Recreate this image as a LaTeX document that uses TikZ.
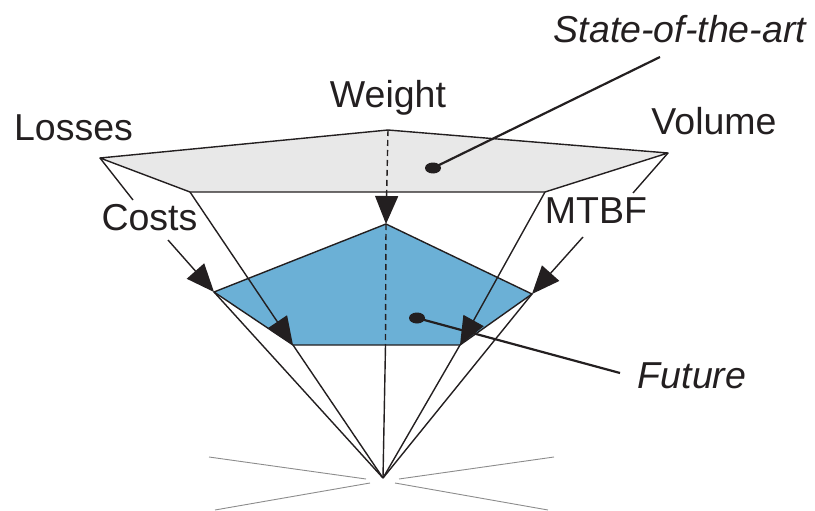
\documentclass[tikz,border=0pt]{standalone}
\usepackage{fontspec}
\setmainfont{Liberation Sans}
\usetikzlibrary{arrows.meta}
\definecolor{ink}{RGB}{35,31,32}
\definecolor{topgray}{RGB}{232,232,232}
\definecolor{futblue}{RGB}{107,176,214}
\definecolor{thingray}{RGB}{140,140,140}
\begin{document}
\begin{tikzpicture}[x=1pt,y=-1pt,
  edge/.style={ink, line width=1.4pt, line join=round},
  arr/.style={edge, -{Triangle[length=28pt,width=23pt]}},
  dsh/.style={dash pattern=on 6pt off 4pt},
  lbl/.style={font=\fontsize{37.5}{42}\selectfont, text=ink, inner sep=0pt, anchor=base},
  ilbl/.style={lbl, font=\fontsize{37.5}{42}\selectfont\itshape},
  ptr/.style={ink, line width=2.2pt},
  faint/.style={thingray, line width=0.9pt}]
\useasboundingbox (0,0) rectangle (815,511);
% vertices
\coordinate (TL) at (100,158);
\coordinate (TW) at (388,130);
\coordinate (TV) at (668,153);
\coordinate (TM) at (545,192);
\coordinate (TC) at (190,192);
\coordinate (BT) at (386,224);
\coordinate (BR) at (532,294);
\coordinate (BBR) at (460,345);
\coordinate (BBL) at (293,345);
\coordinate (BL) at (214,292);
\coordinate (BB) at (385.5,345);
\coordinate (A) at (383,478);
% label leader points
\coordinate (costsA) at (133,200);
\coordinate (costsB) at (168,240);
\coordinate (mtbfA) at (633,193);
\coordinate (mtbfB) at (583,237);
% faces
\filldraw[edge, fill=topgray] (TL)--(TW)--(TV)--(TM)--(TC)--cycle;
\filldraw[edge, fill=futblue] (BT)--(BR)--(BBR)--(BBL)--(BL)--cycle;
% connectors
\draw[edge] (TL)--(costsA);
\draw[arr] (costsB)--(BL);
\draw[arr] (TC)--(BBL);
\draw[arr] (TM)--(BBR);
\draw[edge] (TV)--(mtbfA);
\draw[arr] (mtbfB)--(BR);
\draw[arr, dsh] (TW)--(BT);
\draw[edge, dsh] (BT)--(BB);
\draw[edge] (BB)--(A);
\draw[edge] (BL)--(A);
\draw[edge] (BBL)--(A);
\draw[edge] (BBR)--(A);
\draw[edge] (BR)--(A);
% faint lines at the apex
\coordinate (g1a) at (209,457); \coordinate (g1b) at (366,479);
\coordinate (g2a) at (215,510); \coordinate (g2b) at (370,483);
\coordinate (g3a) at (399,479); \coordinate (g3b) at (554,457);
\coordinate (g4a) at (395,483); \coordinate (g4b) at (548,510);
\draw[faint] (g1a)--(g1b);
\draw[faint] (g2a)--(g2b);
\draw[faint] (g3a)--(g3b);
\draw[faint] (g4a)--(g4b);
% dots and pointers
\coordinate (sdot) at (433,168);
\coordinate (sptr) at (660,57);
\coordinate (fdot) at (417,318);
\coordinate (fptr) at (620,373);
\draw[ptr] (sdot)--(sptr);
\draw[ptr] (fdot)--(fptr);
\fill[ink] (sdot) ellipse [x radius=8pt, y radius=5.5pt];
\fill[ink] (fdot) ellipse [x radius=8pt, y radius=5.5pt];
% labels
\node[lbl] (weight) at (388,107) {Weight};
\node[lbl] (losses) at (73.5,140) {Losses};
\node[lbl] (volume) at (714,135) {Volume};
\node[lbl] (costs) at (149.5,230) {Costs};
\node[lbl] (mtbf) at (596,223) {MTBF};
\node[ilbl] (sota) at (680,43) {State-of-the-art};
\node[ilbl] (future) at (692,388) {Future};
\end{tikzpicture}
\end{document}
